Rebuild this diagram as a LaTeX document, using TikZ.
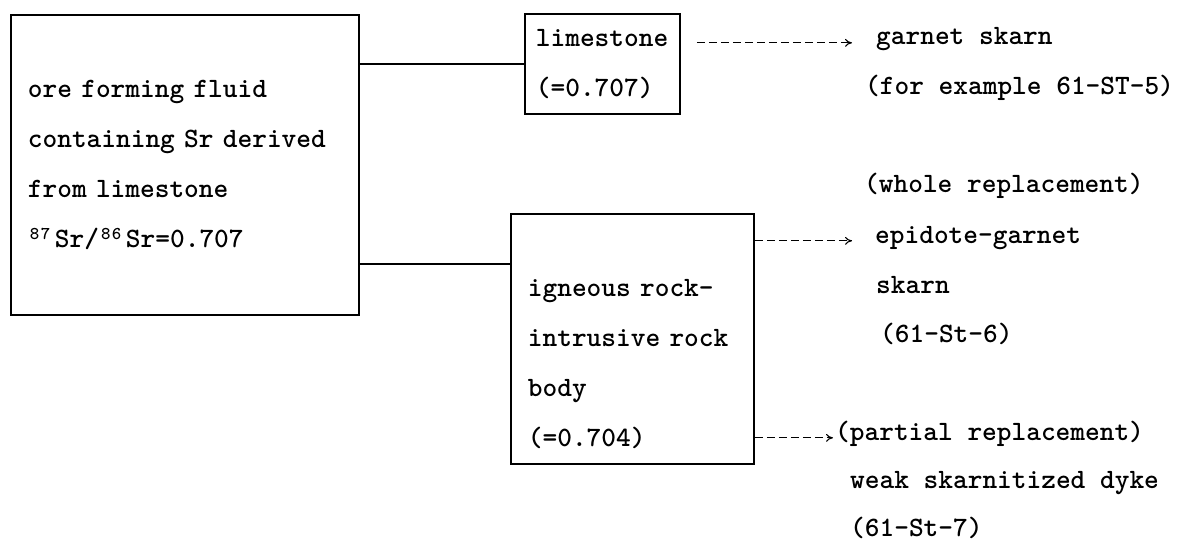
\documentclass[tikz,border=0pt]{standalone}
\usepackage{tikz}
\usetikzlibrary{arrows.meta,positioning}

\newcommand{\iso}[2]{\makebox[27pt][l]{\kern2pt\raisebox{8pt}{\fontsize{18}{18}\selectfont #1\kern1.5pt #2}}}

\begin{document}
\begin{tikzpicture}[
  x=1pt, y=-1pt,
  font=\fontsize{28}{50}\selectfont\ttfamily\bfseries,
  box/.style={draw, line width=1.8pt, align=left, inner ysep=0pt, anchor=north west},
  note/.style={inner sep=0pt, anchor=base west},
  link/.style={line width=1.3pt},
  flow/.style={-{To[length=7pt,width=8pt]}, line width=1.1pt, dash pattern=on 8pt off 4pt}
]
\useasboundingbox (0,0) rectangle (1180,548);

\node[box, inner xsep=17pt, text width=314pt, minimum height=300pt] (fluid) at (10,14)
  {ore forming fluid\\containing Sr derived\\from limestone\\\iso87Sr/\iso86Sr=0.707};
\node[box, inner xsep=11pt, text width=133pt, minimum height=100pt] (limestone) at (524,13)
  {limestone\\(=0.707)};
\node[box, inner xsep=17pt, text width=209pt, minimum height=250pt] (igneous) at (510,213)
  {\rule{0pt}{17pt}\\igneous rock-\\intrusive rock\\body\\(=0.704)};

\node[note] (garnet) at (876,45) {garnet skarn};
\node[note] (example) at (865,95) {(for example 61-ST-5)};
\node[note] (whole) at (864,193) {(whole replacement)};
\node[note] (epidote) at (875,243) {epidote-garnet};
\node[note] (skarn) at (876,293) {skarn};
\node[note] (sample6) at (880,342) {(61-St-6)};
\node[note] (partial) at (835,440) {(partial replacement)};
\node[note] (dyke) at (850,488) {weak skarnitized dyke};
\node[note] (sample7) at (850,536) {(61-St-7)};

\coordinate (igtap) at ([yshift=-51pt]igneous.north west);
\draw[link] (fluid.east |- limestone.west) -- (limestone.west);
\draw[link] (fluid.east |- igtap) -- (igtap);

\draw[flow, shorten <=16pt, shorten >=24pt] (limestone.east |- garnet.mid west) -- (garnet.mid west);
\draw[flow, shorten >=23pt] (igneous.east |- epidote.mid west) -- (epidote.mid west);
\draw[flow, shorten >=2pt] (igneous.east |- partial.mid west) -- (partial.mid west);
\end{tikzpicture}
\end{document}
